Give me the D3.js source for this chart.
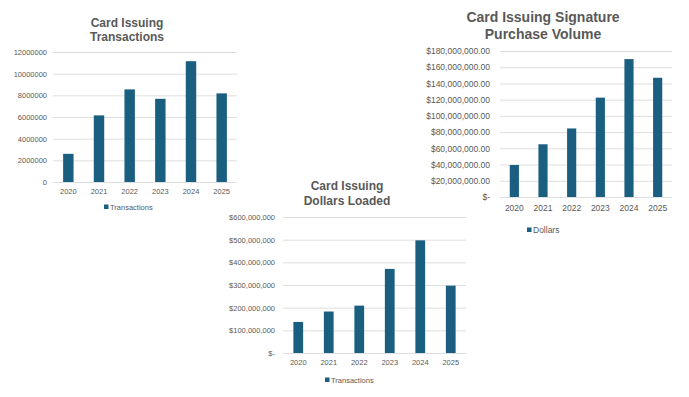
<!DOCTYPE html>
<html>
<head>
<meta charset="utf-8">
<script src="https://cdn.jsdelivr.net/npm/d3@7"></script>
<style>
  body { margin: 0; background: #fff; }
  svg { display: block; font-family: "Liberation Sans", Arial, sans-serif; }
</style>
</head>
<body>
<svg id="chart" width="689" height="397"></svg>
<script>
var years = ["2020", "2021", "2022", "2023", "2024", "2025"];

// Transactions count per year
var transactions = [2600000, 6150000, 8550000, 7680000, 11150000, 8180000];
var transTicks = [0, 2000000, 4000000, 6000000, 8000000, 10000000, 12000000];

// Signature purchase volume (dollars)
var purchaseVolume = [39500000, 65000000, 84500000, 122500000, 170000000, 147000000];
var purchaseTicks = [0, 20000000, 40000000, 60000000, 80000000, 100000000, 120000000, 140000000, 160000000, 180000000];

// Dollars loaded
var dollarsLoaded = [137000000, 183000000, 209000000, 371000000, 497000000, 297000000];
var loadedTicks = [0, 100000000, 200000000, 300000000, 400000000, 500000000, 600000000];

var barColor = "#1b5f80";
var gridColor = "#dedede";
var textColor = "#595959";

var svg = d3.select("#chart");

function drawChart(opt) {
    var g = svg.append("g");

    var x = d3.scaleBand()
        .domain(years)
        .range([opt.left, opt.right])
        .paddingInner(opt.pad)
        .paddingOuter(opt.pad / 2);

    var y = d3.scaleLinear()
        .domain([0, opt.ticks[opt.ticks.length - 1]])
        .range([opt.bottom, opt.top]);

    // gridlines
    g.selectAll(".grid")
        .data(opt.ticks)
        .enter()
        .append("line")
        .attr("x1", opt.left)
        .attr("x2", opt.right)
        .attr("y1", function(d) { return y(d) + 0.5; })
        .attr("y2", function(d) { return y(d) + 0.5; })
        .attr("stroke", gridColor)
        .attr("stroke-width", 1);

    // y axis labels
    var yAxis = d3.axisLeft(y)
        .tickValues(opt.ticks)
        .tickSize(0)
        .tickPadding(opt.labelGap)
        .tickFormat(opt.fmt);
    var ya = g.append("g")
        .attr("transform", "translate(" + opt.left + ",0)")
        .call(yAxis);
    ya.select(".domain").remove();
    ya.selectAll("text")
        .attr("fill", textColor)
        .attr("font-size", opt.tickSize)
        .attr("font-family", "Liberation Sans, Arial, sans-serif");

    // x axis labels
    var xAxis = d3.axisBottom(x).tickSize(0).tickPadding(opt.xGap);
    var xa = g.append("g")
        .attr("transform", "translate(0," + opt.bottom + ")")
        .call(xAxis);
    xa.select(".domain").remove();
    xa.selectAll("text")
        .attr("fill", textColor)
        .attr("font-size", opt.xSize)
        .attr("font-family", "Liberation Sans, Arial, sans-serif");

    // bars
    g.selectAll(".bar")
        .data(opt.values)
        .enter()
        .append("rect")
        .attr("x", function(d, i) { return x(years[i]); })
        .attr("width", x.bandwidth())
        .attr("y", function(d) { return y(d); })
        .attr("height", function(d) { return y(0) - y(d); })
        .attr("fill", barColor);

    // title
    g.append("text")
        .attr("x", opt.titleX)
        .attr("y", opt.titleY)
        .attr("text-anchor", "middle")
        .attr("font-weight", "bold")
        .attr("font-size", opt.titleSize)
        .attr("fill", textColor)
        .selectAll("tspan")
        .data(opt.title)
        .enter()
        .append("tspan")
        .attr("x", opt.titleX)
        .attr("dy", function(d, i) { return i == 0 ? 0 : opt.titleLine; })
        .text(function(d) { return d; });

    // legend
    g.append("rect")
        .attr("x", opt.legX)
        .attr("y", opt.legY - 2.5)
        .attr("width", 4.5)
        .attr("height", 4.5)
        .attr("fill", barColor);
    g.append("text")
        .attr("x", opt.legX + 6)
        .attr("y", opt.legY)
        .attr("dy", "0.35em")
        .attr("font-size", opt.legSize)
        .attr("fill", textColor)
        .text(opt.legend);
}

drawChart({
    values: transactions, ticks: transTicks,
    fmt: d3.format("d"),
    left: 53, right: 237, top: 52, bottom: 182,
    pad: 0.66, labelGap: 6, tickSize: 7.5, xGap: 7, xSize: 7.5,
    title: ["Card Issuing", "Transactions"], titleX: 127, titleY: 27, titleSize: 12, titleLine: 14,
    legend: "Transactions", legX: 104, legY: 207, legSize: 7.5
});

drawChart({
    values: purchaseVolume, ticks: purchaseTicks,
    fmt: function(d) { return d == 0 ? "$-" : "$" + d3.format(",.2f")(d); },
    left: 500, right: 672, top: 51, bottom: 197,
    pad: 0.68, labelGap: 10, tickSize: 8.5, xGap: 8, xSize: 8.5,
    title: ["Card Issuing Signature", "Purchase Volume"], titleX: 543, titleY: 22, titleSize: 14, titleLine: 17,
    legend: "Dollars", legX: 527, legY: 230, legSize: 8.5
});

drawChart({
    values: dollarsLoaded, ticks: loadedTicks,
    fmt: function(d) { return d == 0 ? "$-" : "$" + d3.format(",")(d); },
    left: 283, right: 466, top: 217, bottom: 353,
    pad: 0.68, labelGap: 8, tickSize: 7.5, xGap: 7, xSize: 7.5,
    title: ["Card Issuing", "Dollars Loaded"], titleX: 347, titleY: 190, titleSize: 12, titleLine: 15,
    legend: "Transactions", legX: 325, legY: 380, legSize: 7.5
});
</script>
</body>
</html>
